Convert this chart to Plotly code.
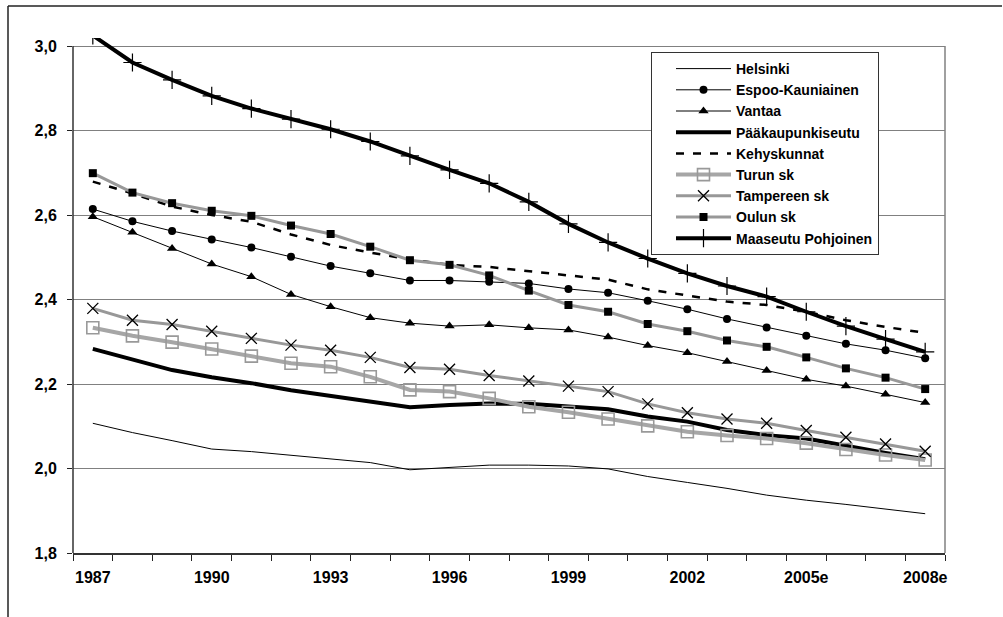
import plotly.graph_objects as go

# Household size (persons per dwelling) by region, 1987-2008e
years = ["1987", "1988", "1989", "1990", "1991", "1992", "1993", "1994", "1995",
         "1996", "1997", "1998", "1999", "2000", "2001", "2002", "2003", "2004",
         "2005e", "2006e", "2007e", "2008e"]
tick_years = ["1987", "1990", "1993", "1996", "1999", "2002", "2005e", "2008e"]

helsinki = [2.107, 2.085, 2.066, 2.046, 2.040, 2.031, 2.023, 2.014, 1.997, 2.003, 2.008,
            2.008, 2.006, 1.999, 1.981, 1.967, 1.953, 1.937, 1.925, 1.915, 1.904, 1.893]
espoo_kauniainen = [2.614, 2.585, 2.562, 2.542, 2.523, 2.501, 2.479, 2.462, 2.445, 2.445, 2.442,
                    2.438, 2.425, 2.416, 2.397, 2.377, 2.354, 2.334, 2.314, 2.295, 2.280, 2.261]
vantaa = [2.596, 2.559, 2.521, 2.484, 2.454, 2.412, 2.383, 2.357, 2.344, 2.337, 2.340,
          2.333, 2.328, 2.311, 2.291, 2.274, 2.253, 2.232, 2.211, 2.195, 2.176, 2.156]
paakaupunkiseutu = [2.283, 2.257, 2.233, 2.216, 2.202, 2.185, 2.172, 2.160, 2.145, 2.150, 2.154,
                    2.153, 2.146, 2.140, 2.123, 2.111, 2.091, 2.079, 2.071, 2.053, 2.037, 2.022]
kehyskunnat = [2.679, 2.651, 2.620, 2.600, 2.584, 2.554, 2.529, 2.511, 2.495, 2.482, 2.477,
               2.467, 2.457, 2.447, 2.424, 2.410, 2.395, 2.387, 2.371, 2.351, 2.335, 2.321]
turun_sk = [2.333, 2.314, 2.299, 2.283, 2.266, 2.249, 2.241, 2.217, 2.186, 2.182, 2.166,
            2.146, 2.133, 2.117, 2.101, 2.087, 2.078, 2.071, 2.060, 2.045, 2.032, 2.020]
tampereen_sk = [2.379, 2.351, 2.341, 2.325, 2.308, 2.292, 2.280, 2.263, 2.239, 2.235, 2.220,
                2.207, 2.195, 2.182, 2.153, 2.132, 2.117, 2.107, 2.090, 2.074, 2.058, 2.041]
oulun_sk = [2.699, 2.653, 2.628, 2.610, 2.598, 2.575, 2.555, 2.525, 2.493, 2.482, 2.457,
            2.421, 2.387, 2.371, 2.342, 2.325, 2.303, 2.288, 2.263, 2.237, 2.215, 2.188]
maaseutu_pohjoinen = [3.025, 2.961, 2.920, 2.882, 2.852, 2.827, 2.803, 2.774, 2.740, 2.707, 2.675,
                      2.631, 2.579, 2.535, 2.497, 2.462, 2.432, 2.407, 2.371, 2.337, 2.306, 2.276]

y_ticks = [1.8, 2.0, 2.2, 2.4, 2.6, 2.8, 3.0]

FONT = "Liberation Sans, Arial, sans-serif"
GRAY = "#989898"
DARK = "#333333"

fig = go.Figure()

def add(name, values, line, marker=None):
    fig.add_trace(go.Scatter(
        x=years, y=values, name=name,
        mode="lines+markers" if marker else "lines",
        line=line, marker=marker or {},
    ))

add("Helsinki", helsinki, dict(color="black", width=1))
add("Espoo-Kauniainen", espoo_kauniainen, dict(color="black", width=1),
    dict(symbol="circle", size=8, color="black"))
add("Vantaa", vantaa, dict(color="black", width=1),
    dict(symbol="triangle-up", size=9, color="black"))
add("Pääkaupunkiseutu", paakaupunkiseutu, dict(color="black", width=4))
add("Kehyskunnat", kehyskunnat, dict(color="black", width=2.5, dash="8px,9px"))
add("Turun sk", turun_sk, dict(color="#a6a6a6", width=4),
    dict(symbol="square-open", size=12, color="#999999", line=dict(width=1.6, color="#999999")))
add("Tampereen sk", tampereen_sk, dict(color=GRAY, width=3),
    dict(symbol="x-thin-open", size=11, color="black", line=dict(width=1.3, color="black")))
add("Oulun sk", oulun_sk, dict(color=GRAY, width=3),
    dict(symbol="square", size=8, color="black"))
add("Maaseutu Pohjoinen", maaseutu_pohjoinen, dict(color="black", width=4),
    dict(symbol="cross-thin-open", size=13, color="black", line=dict(width=1.2, color="black")))

n = len(years)

# pixel layout of the plot area
L, R, T, B = 73, 945, 38, 553
W, H = 1003, 617
def px(xp):
    return (xp - L) / (R - L)
def py(yp):
    return (B - yp) / (B - T)

fig.update_layout(
    width=W, height=H,
    margin=dict(l=L, r=W - R, t=T, b=H - B, pad=0, autoexpand=False),
    paper_bgcolor="white", plot_bgcolor="white",
    separators=", ",
    font=dict(family=FONT, size=16, color="black"),
    showlegend=True,
    legend=dict(
        x=px(651), y=py(52), xanchor="left", yanchor="top",
        bgcolor="white", bordercolor=DARK, borderwidth=1,
        font=dict(family=FONT, size=14, color="black", weight="bold"),
        indentation=19, itemwidth=55,
        tracegroupgap=0, traceorder="normal",
    ),
    xaxis=dict(
        type="category", categoryorder="array", categoryarray=years,
        range=[-0.5, n - 0.5], autorange=False,
        tickmode="linear", tick0=0, dtick=1,
        # only every third year is labelled
        labelalias={y: "" for y in years if y not in tick_years},
        tickangle=0,
        tickson="boundaries", ticks="outside", ticklen=6, tickwidth=1.2, tickcolor="#222222",
        showline=True, linecolor=DARK, linewidth=1.5,
        showgrid=False, zeroline=False, automargin=False,
        tickfont=dict(family=FONT, size=16, color="black", weight="bold"),
        ticklabelstandoff=9,
        fixedrange=True,
    ),
    yaxis=dict(
        range=[1.8, 3.0 + (46 - T) / 422.5], autorange=False,
        tickmode="array", tickvals=y_ticks, tickformat=".1f",
        ticks="outside", ticklen=5, tickwidth=1.2, tickcolor="#222222",
        showline=False, showgrid=True, gridcolor="#808080", gridwidth=1,
        zeroline=False, automargin=False,
        tickfont=dict(family=FONT, size=16, color="black", weight="bold"),
        ticklabelstandoff=7,
        fixedrange=True,
    ),
    shapes=[
        # value axis line and right border of the plot area
        dict(type="line", xref="paper", yref="y", x0=0, x1=0, y0=1.8, y1=3.0,
             line=dict(color=DARK, width=1.5)),
        dict(type="line", xref="paper", yref="y", x0=1, x1=1, y0=1.8, y1=3.0,
             line=dict(color="#808080", width=1.5)),
        # chart frame
        dict(type="line", xref="paper", yref="paper", x0=px(8), x1=px(8), y0=py(6), y1=py(640),
             line=dict(color="#222222", width=1.5)),
        dict(type="line", xref="paper", yref="paper", x0=px(8), x1=px(1002), y0=py(6), y1=py(6),
             line=dict(color="#222222", width=1.5)),
    ],
)

fig.write_html("out.html")
